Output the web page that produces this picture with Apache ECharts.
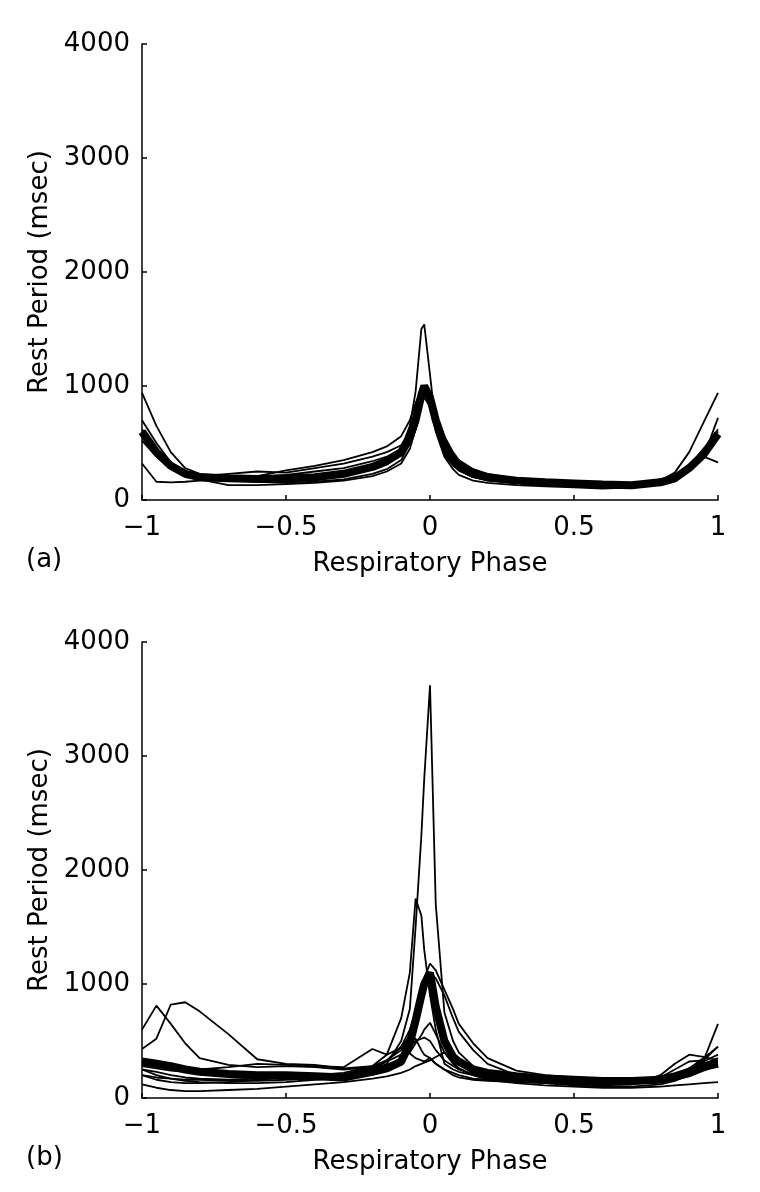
<!DOCTYPE html>
<html><head><meta charset="utf-8">
<script src="https://cdn.jsdelivr.net/npm/echarts@6/dist/echarts.min.js"></script>
<style>html,body{margin:0;padding:0;background:#fff}#c{width:760px;height:1192px}</style>
</head><body><div id="c"></div>
<script>
// Respiratory phase sample positions (shared by all traces)
const phase = [-1,-0.95,-0.9,-0.85,-0.8,-0.7,-0.6,-0.5,-0.4,-0.3,-0.2,-0.15,-0.1,-0.07,-0.05,-0.03,-0.02,0,0.02,0.05,0.08,0.1,0.15,0.2,0.3,0.4,0.5,0.6,0.7,0.8,0.85,0.9,0.95,1];
const xTicks = [-1,-0.5,0,0.5,1];
const yTicks = [0,1000,2000,3000,4000];

// Panel (a): individual traces (msec) and the mean (thick)
const a1 = [560,400,290,220,190,170,180,170,190,220,280,330,450,650,950,1500,1540,1100,650,420,320,260,200,180,150,140,130,120,110,150,200,300,420,600];
const a2 = [940,650,420,280,230,210,200,220,250,280,340,380,450,600,780,900,950,880,680,460,350,300,240,210,170,160,150,140,140,180,210,300,450,560];
const a3 = [320,160,155,160,170,180,160,150,160,180,230,270,350,500,700,880,930,850,620,400,300,260,200,170,150,140,130,120,130,160,200,270,380,330];
const a4 = [700,500,330,240,180,130,130,140,150,170,210,250,320,450,620,850,900,820,600,380,270,220,170,150,130,120,110,100,110,140,180,260,380,720];
const a5 = [620,440,320,250,210,230,250,240,280,320,380,420,480,600,780,920,960,900,720,520,400,340,270,230,190,170,150,140,130,170,240,420,680,940];
const a6 = [520,380,270,210,200,200,210,260,300,350,420,470,560,700,850,970,1000,940,760,560,420,350,270,220,180,160,150,130,120,160,200,300,430,620];
const aMean = [600,420,300,230,200,190,185,190,200,230,290,340,420,550,700,920,1000,900,700,480,360,300,230,200,170,155,145,135,130,155,190,280,400,580];

// Panel (b)
const b1 = [200,180,170,160,160,150,150,160,170,180,230,300,500,780,1500,2300,2800,3620,1700,750,500,400,280,210,170,150,140,130,130,150,170,220,300,350];
const b2 = [250,230,200,180,170,160,170,180,190,200,280,380,700,1100,1750,1600,1300,900,600,300,250,230,200,180,160,150,140,140,140,160,200,260,350,450];
const b3 = [280,260,240,230,220,200,190,180,180,200,260,330,450,600,750,950,1050,1180,1120,950,780,650,480,350,240,200,180,170,160,170,200,250,320,380];
const b4 = [430,520,820,840,760,560,340,300,290,260,280,320,380,450,500,520,530,500,420,330,280,250,210,190,160,150,140,140,150,180,250,320,330,650];
const b5 = [600,810,650,480,350,290,270,280,270,250,270,290,330,400,480,550,600,660,560,400,300,260,200,170,150,140,130,120,120,150,190,260,330,450];
const b6 = [250,200,170,150,140,130,130,140,160,180,250,320,450,540,520,420,380,350,300,250,220,200,170,160,150,130,110,100,100,120,150,200,280,320];
const b7 = [120,90,70,60,60,70,80,100,120,140,170,190,220,250,280,300,310,330,360,400,320,260,200,160,130,110,100,90,90,100,110,120,130,140];
const b8 = [300,280,260,250,250,270,300,290,280,270,430,380,440,390,350,330,320,350,300,250,200,180,160,150,140,130,120,110,120,200,300,380,360,330];
const b9 = [200,160,140,130,130,140,160,180,200,220,280,330,420,550,700,850,950,1100,1050,900,700,580,420,300,200,170,150,130,130,140,160,190,240,280];
const bMean = [320,300,280,250,230,210,200,200,190,180,230,260,320,480,680,900,1000,1100,800,500,360,320,250,220,190,170,160,150,150,160,190,230,280,300];

const FONT = 'DejaVu Sans';
const FS = 26;
const pair = ys => phase.map((x,i)=>[x,ys[i]]);
const fmt = v => String(v).replace('-', '\u2212');

function xAxis(idx){
  return {type:'value', gridIndex:idx, min:-1, max:1, interval:0.5,
    name:'Respiratory Phase', nameLocation:'middle', nameGap:51,
    nameTextStyle:{color:'#000', fontSize:FS, fontFamily:FONT},
    axisLine:{show:true, onZero:false, lineStyle:{color:'#000', width:1.5}},
    axisTick:{show:true, inside:true, length:5, lineStyle:{color:'#000', width:1.5}},
    axisLabel:{color:'#000', fontSize:FS, fontFamily:FONT, margin:15, formatter:fmt},
    splitLine:{show:false}};
}
function yAxis(idx){
  return {type:'value', gridIndex:idx, min:0, max:4000, interval:1000,
    name:'Rest Period (msec)', nameLocation:'middle', nameGap:88, nameRotate:90,
    nameTextStyle:{color:'#000', fontSize:FS, fontFamily:FONT},
    axisLine:{show:true, onZero:false, lineStyle:{color:'#000', width:1.5}},
    axisTick:{show:true, inside:true, length:5, lineStyle:{color:'#000', width:1.5}},
    axisLabel:{color:'#000', fontSize:FS, fontFamily:FONT, margin:12, formatter:v=>String(v)},
    splitLine:{show:false}};
}
function line(ys, idx, w){
  return {type:'line', xAxisIndex:idx, yAxisIndex:idx, data:pair(ys), showSymbol:false,
    symbol:'none', silent:true, clip:true, animation:false,
    lineStyle:{color:'#000', width:w}, z: w>3?3:2};
}

const series = [];
[a1,a2,a3,a4,a5,a6].forEach(s=>series.push(line(s,0,1.8)));
series.push(line(aMean,0,8));
[b1,b2,b3,b4,b5,b6,b7,b8,b9].forEach(s=>series.push(line(s,1,1.8)));
series.push(line(bMean,1,8));

const chart = echarts.init(document.getElementById('c'), null, {renderer:'canvas'});
chart.setOption({
  backgroundColor:'#fff',
  animation:false,
  grid:[{left:142, top:44, width:576, height:456},
        {left:142, top:642, width:576, height:456}],
  xAxis:[xAxis(0), xAxis(1)],
  yAxis:[yAxis(0), yAxis(1)],
  series: series,
  graphic:[
    {type:'text', left:26, top:547, style:{text:'(a)', fontSize:FS, fontFamily:FONT, fill:'#000'}},
    {type:'text', left:26, top:1145, style:{text:'(b)', fontSize:FS, fontFamily:FONT, fill:'#000'}}
  ]
});
</script></body></html>
